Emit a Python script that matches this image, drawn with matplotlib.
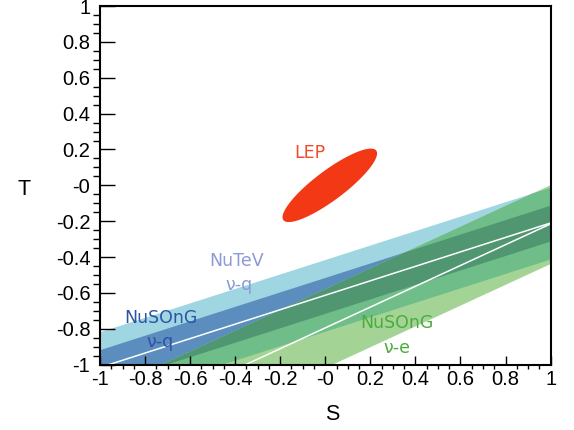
import numpy as np
import matplotlib
matplotlib.use('Agg')
import matplotlib.pyplot as plt
from matplotlib.ticker import FixedLocator, MultipleLocator

# ---------------- data ----------------
# nu-q bands (NuTeV and NuSOnG projection share centre line)
vq_center_at_s1 = -0.21      # T of centre line at S = 1
vq_slope = 0.403             # dT/dS
nutev_halfwidth = 0.20
nusong_vq_halfwidth = 0.10

# NuSOnG nu-e band
ve_center_at_s1 = -0.215
ve_slope = 0.58
ve_halfwidth = 0.22

# LEP ellipse: centre, conjugate semi-axis vectors (dS, dT)
lep_center = (0.02, 0.0)
lep_axis1 = (0.206, 0.194)
lep_axis2 = (0.040, -0.066)

tick_values = [-1, -0.8, -0.6, -0.4, -0.2, 0, 0.2, 0.4, 0.6, 0.8, 1]
tick_labels = ['-1', '-0.8', '-0.6', '-0.4', '-0.2', '-0', '0.2', '0.4', '0.6', '0.8', '1']

# colours
c_light_blue = '#9fd6e2'
c_dark_blue = '#5b8dbe'
c_light_green = '#a3d496'
c_mid_green = '#6fbd89'
c_dark_green = '#4f9671'
c_red = '#f33816'

plt.rcParams['font.family'] = ['Liberation Sans', 'DejaVu Sans']

fig = plt.figure(figsize=(5.74, 4.30), dpi=100)
ax = fig.add_axes([0.1742, 0.152, 0.785, 0.834])

S = np.linspace(-1.0, 1.0, 801)
vq_c = vq_center_at_s1 + vq_slope * (S - 1)
ve_c = ve_center_at_s1 + ve_slope * (S - 1)

lb_lo, lb_hi = vq_c - nutev_halfwidth, vq_c + nutev_halfwidth
db_lo, db_hi = vq_c - nusong_vq_halfwidth, vq_c + nusong_vq_halfwidth
g_lo, g_hi = ve_c - ve_halfwidth, ve_c + ve_halfwidth

ax.fill_between(S, lb_lo, lb_hi, color=c_light_blue, lw=0, zorder=1)
ax.fill_between(S, db_lo, db_hi, color=c_dark_blue, lw=0, zorder=1.1)
ax.fill_between(S, g_lo, g_hi, color=c_light_green, lw=0, zorder=1.2)
lo = np.maximum(g_lo, lb_lo); hi = np.minimum(g_hi, lb_hi)
ax.fill_between(S, lo, hi, where=hi > lo, color=c_mid_green, lw=0, zorder=1.3, interpolate=True)
lo = np.maximum(g_lo, db_lo); hi = np.minimum(g_hi, db_hi)
ax.fill_between(S, lo, hi, where=hi > lo, color=c_dark_green, lw=0, zorder=1.4, interpolate=True)

ax.plot(S, vq_c, color='white', lw=1.1, zorder=2)
ax.plot(S, ve_c, color='white', lw=1.1, zorder=2)

t = np.linspace(0, 2 * np.pi, 300)
es = lep_center[0] + np.cos(t) * lep_axis1[0] + np.sin(t) * lep_axis2[0]
et = lep_center[1] + np.cos(t) * lep_axis1[1] + np.sin(t) * lep_axis2[1]
ax.fill(es, et, color=c_red, lw=0, zorder=2)

# labels
lab_kw = dict(fontsize=12.5, family='DejaVu Sans', ha='center', va='center')
ax.text(-0.067, 0.181, 'LEP', color='#f04a28', **lab_kw)
ax.text(-0.392, -0.42, 'NuTeV', color='#8d9ad6', **lab_kw)
ax.text(-0.385, -0.555, 'ν-q', color='#8d9ad6', **lab_kw)
ax.text(-0.729, -0.738, 'NuSOnG', color='#2d52a6', **lab_kw)
ax.text(-0.733, -0.872, 'ν-q', color='#2d52a6', **lab_kw)
ax.text(0.318, -0.766, 'NuSOnG', color='#4aac3c', **lab_kw)
ax.text(0.318, -0.905, 'ν-e', color='#4aac3c', **lab_kw)

ax.set_xlim(-1, 1)
ax.set_ylim(-1, 1)
ax.xaxis.set_major_locator(FixedLocator(tick_values))
ax.yaxis.set_major_locator(FixedLocator(tick_values))
ax.set_xticklabels(tick_labels)
ax.set_yticklabels(tick_labels)
ax.xaxis.set_minor_locator(MultipleLocator(0.05))
ax.yaxis.set_minor_locator(MultipleLocator(0.05))

ax.tick_params(direction='in', top=False, right=False, labelsize=14.5, colors='black')
ax.tick_params(axis='y', which='major', length=10.8, width=1.0, pad=7)
ax.tick_params(axis='y', which='minor', length=5.0, width=1.0)
ax.tick_params(axis='x', which='major', length=6.5, width=1.0, pad=3.5)
ax.tick_params(axis='x', which='minor', length=3.0, width=1.0)
for sp in ax.spines.values():
    sp.set_linewidth(1.5)
    sp.set_zorder(5)

ax.set_xlabel('S', fontsize=15.5)
ax.set_ylabel('T', fontsize=15.5, rotation=0)
ax.xaxis.set_label_coords(0.515, -0.138)
ax.yaxis.set_label_coords(-0.169, 0.487)
ax.xaxis.label.set_va('center')
ax.yaxis.label.set_va('center')
ax.yaxis.label.set_ha('center')

fig.savefig('out.png', dpi=100)
